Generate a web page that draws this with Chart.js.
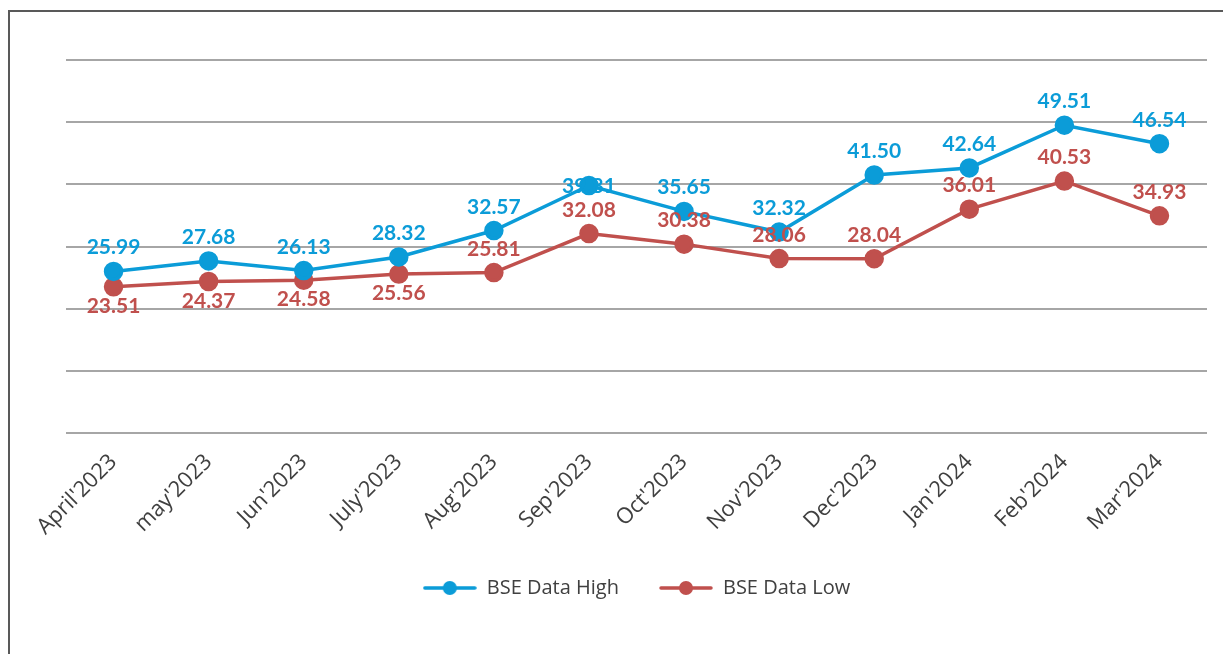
<!DOCTYPE html>
<html>
<head>
<meta charset="utf-8">
<script src="https://cdn.jsdelivr.net/npm/chart.js@4"></script>
<style>
  body { margin: 0; background: #fff; overflow: hidden; }
  #wrap { position: relative; width: 1223px; height: 654px; }
  #frame { position: absolute; left: 8px; top: 10px; width: 1400px; height: 800px; border: 2px solid #595959; }
  canvas { position: absolute; left: 0; top: 0; }
</style>
</head>
<body>
<div id="wrap">
  <div id="frame"></div>
  <canvas id="lineChart" width="1223" height="654"></canvas>
</div>
<script>
const months = ["April'2023", "may'2023", "Jun'2023", "July'2023", "Aug'2023", "Sep'2023",
                "Oct'2023", "Nov'2023", "Dec'2023", "Jan'2024", "Feb'2024", "Mar'2024"];
const bseHigh = [25.99, 27.68, 26.13, 28.32, 32.57, 39.81, 35.65, 32.32, 41.50, 42.64, 49.51, 46.54];
const bseLow  = [23.51, 24.37, 24.58, 25.56, 25.81, 32.08, 30.38, 28.06, 28.04, 36.01, 40.53, 34.93];
// where each data label sits: 'above', 'below' or 'center'
const highLabelPos = ['above', 'above', 'above', 'above', 'above', 'center', 'above', 'above', 'above', 'above', 'above', 'above'];
const lowLabelPos  = ['below', 'below', 'below', 'below', 'above', 'above', 'above', 'above', 'above', 'above', 'above', 'above'];

const blue = '#0b9cd8';
const red = '#c0504d';

// little line + dot icon for the legend
function legendIcon(color) {
    const c = document.createElement('canvas');
    c.width = 54; c.height = 18;
    const g = c.getContext('2d');
    g.strokeStyle = color; g.lineWidth = 3.5; g.lineCap = 'round';
    g.beginPath(); g.moveTo(2, 9); g.lineTo(52, 9); g.stroke();
    g.fillStyle = color;
    g.beginPath(); g.arc(27, 9, 7, 0, Math.PI * 2); g.fill();
    return c;
}

// simple data label plugin (no datalabels lib available)
const valueLabels = {
    id: 'valueLabels',
    afterDatasetsDraw(chart) {
        const ctx = chart.ctx;
        ctx.save();
        ctx.font = 'bold 21px Lato';
        ctx.textAlign = 'center';
        chart.data.datasets.forEach((ds, i) => {
            const meta = chart.getDatasetMeta(i);
            meta.data.forEach((pt, j) => {
                const pos = ds.labelPos[j];
                ctx.fillStyle = ds.borderColor;
                let y;
                if (pos === 'above') { ctx.textBaseline = 'alphabetic'; y = pt.y - 17; }
                else if (pos === 'below') { ctx.textBaseline = 'top'; y = pt.y + 9; }
                else { ctx.textBaseline = 'middle'; y = pt.y + 1; }
                ctx.fillText(ds.data[j].toFixed(2), pt.x, y);
            });
        });
        ctx.restore();
    }
};

const ctx = document.getElementById('lineChart').getContext('2d');

new Chart(ctx, {
    type: 'line',
    data: {
        labels: months,
        datasets: [
            {
                label: 'BSE Data High',
                data: bseHigh,
                labelPos: highLabelPos,
                borderColor: blue,
                backgroundColor: blue,
                borderWidth: 3.5,
                pointRadius: 8,
                pointHoverRadius: 8,
                pointStyle: 'circle',
                tension: 0
            },
            {
                label: 'BSE Data Low',
                data: bseLow,
                labelPos: lowLabelPos,
                borderColor: red,
                backgroundColor: red,
                borderWidth: 3.5,
                pointRadius: 8,
                pointHoverRadius: 8,
                pointStyle: 'circle',
                tension: 0
            }
        ]
    },
    options: {
        responsive: false,
        animation: false,
        layout: { padding: { left: 66, right: 16, top: 60, bottom: 46 } },
        plugins: {
            tooltip: { enabled: false },
            legend: {
                position: 'bottom',
                labels: {
                    font: { family: 'Open Sans', size: 20 },
                    color: '#404040',
                    usePointStyle: true,
                    pointStyleWidth: 54,
                    padding: 40,
                    generateLabels: (chart) => chart.data.datasets.map((ds, i) => ({
                        text: ds.label,
                        datasetIndex: i,
                        pointStyle: legendIcon(ds.borderColor),
                        fontColor: '#404040',
                        lineWidth: 0,
                        hidden: false
                    }))
                }
            }
        },
        scales: {
            x: {
                offset: true,
                grid: { display: false },
                border: { display: false },
                ticks: {
                    minRotation: 45,
                    maxRotation: 45,
                    color: '#404040',
                    font: { family: 'Open Sans', size: 22 },
                    padding: 8
                },
                afterFit: (scale) => { scale.height = 105; }
            },
            y: {
                min: 0,
                max: 60,
                ticks: { display: false, stepSize: 10 },
                border: { display: false },
                grid: { color: '#a6a6a6', lineWidth: 2, drawTicks: false }
            }
        }
    },
    plugins: [valueLabels]
});
</script>
</body>
</html>
